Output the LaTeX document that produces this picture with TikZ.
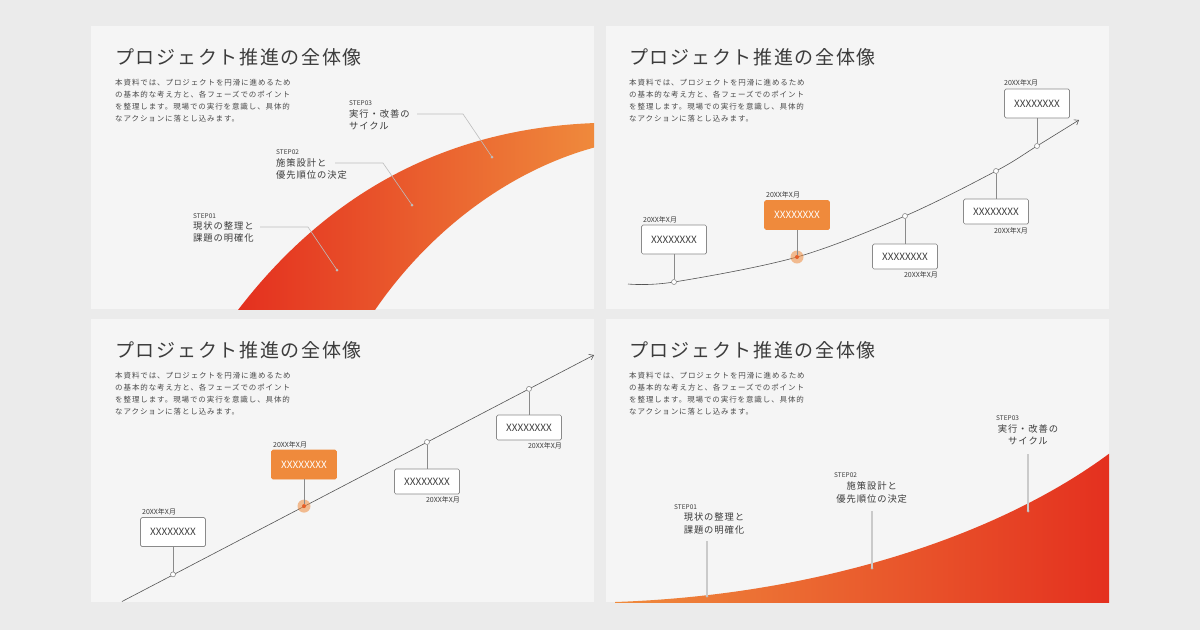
\documentclass[tikz,border=0pt]{standalone}
\usepackage{fontspec}
\setmainfont{Noto Sans CJK JP}
\newfontfamily\titlefont[LetterSpace=9]{Noto Sans CJK JP}
\newfontfamily\bodyfont[LetterSpace=12]{Noto Sans CJK JP}
\newfontfamily\labelfont[LetterSpace=10]{Noto Sans CJK JP}
\usetikzlibrary{arrows.meta}
\definecolor{bgc}{HTML}{EBEBEB}
\definecolor{panelc}{HTML}{F5F5F5}
\definecolor{txt}{HTML}{3C3C3C}
\definecolor{bodyc}{HTML}{4A4A4A}
\definecolor{orng}{HTML}{EF8A3C}
\definecolor{redc}{HTML}{E4301F}
\definecolor{dotc}{HTML}{E5602A}
\definecolor{linec}{HTML}{555555}
\definecolor{boxline}{HTML}{8A8A8A}
\definecolor{annot}{HTML}{BDBDBD}
\newcommand{\mkhead}[3]{%
  \begin{scope}[shift={(#2,#3)}]
    \node[titletxt] (#1title) at (115,64) {プロジェクト推進の全体像};
    \node[bodytxt] (#1la) at (115,85) {本資料では、プロジェクトを円滑に進めるため};
    \node[bodytxt] (#1lb) at (115,97) {の基本的な考え方と、各フェーズでのポイント};
    \node[bodytxt] (#1lc) at (115,109) {を整理します。現場での実行を意識し、具体的};
    \node[bodytxt] (#1ld) at (115,121) {なアクションに落とし込みます。};
  \end{scope}}
\begin{document}
\begin{tikzpicture}[x=1pt,y=-1pt,
  titletxt/.style={anchor=base west, inner sep=0, text=txt, font=\titlefont\fontsize{19}{19}\selectfont},
  bodytxt/.style={anchor=base west, inner sep=0, text=bodyc, font=\bodyfont\fontsize{7.5}{9}\selectfont},
  steptxt/.style={anchor=base west, inner sep=0, text=txt, font=\fontsize{6.5}{7}\selectfont},
  labtxt/.style={anchor=base west, inner sep=0, text=txt, font=\labelfont\fontsize{9.3}{10}\selectfont},
  labc/.style={labtxt, anchor=base},
  xbox/.style={draw=boxline, fill=white, rounded corners=1.5pt, line width=0.7pt, minimum width=65pt, minimum height=29pt, inner sep=0, text=txt, font=\fontsize{10}{10}\selectfont},
  xboxlow/.style={xbox, minimum height=25pt},
  obox/.style={xbox, draw=orng, fill=orng, text=white},
  datetxt/.style={inner sep=0, text=txt, font=\fontsize{7}{7}\selectfont},
  milestone/.style={circle, draw=boxline, fill=white, line width=0.6pt, minimum size=5pt, inner sep=0},
  halo/.style={circle, fill=orng, opacity=0.55, minimum size=13pt, inner sep=0},
  hotdot/.style={circle, fill=dotc, minimum size=4pt, inner sep=0},
  stem/.style={draw=boxline, line width=0.7pt},
  trend/.style={draw=linec, line width=0.6pt},
  annline/.style={draw=annot, line width=0.6pt},
  annline2/.style={draw=annot!80, line width=1.2pt},
  anndot/.style={circle, fill=annot, minimum size=3pt, inner sep=0},
  tip/.style={-{Straight Barb[length=4pt,width=6pt]}}
]
\useasboundingbox (0,0) rectangle (1200,630);
\fill[bgc] (0,0) rectangle (1200,630);
\fill[panelc] (91,26) rectangle (594,309);
\fill[panelc] (606,26) rectangle (1109,309);
\fill[panelc] (91,319) rectangle (594,602);
\fill[panelc] (606,319) rectangle (1109,602);

% ---------- Panel 1 ----------
\begin{scope}
  \clip (91,26) rectangle (594,309);
  \shade[left color=redc, right color=orng]
    (238,310) .. controls (330,190) and (450,128) .. (596,123)
    -- (596,147) .. controls (510,170) and (430,230) .. (375,310) -- cycle;
\end{scope}
\mkhead{pa}{0}{0}
\node[steptxt] (s1a) at (193,218.5) {STEP01};
\node[labtxt] (s1b) at (193,229.8) {現状の整理と};
\node[labtxt] (s1c) at (193,241.8) {課題の明確化};
\node[steptxt] (s2a) at (276,154) {STEP02};
\node[labtxt] (s2b) at (276,166.2) {施策設計と};
\node[labtxt] (s2c) at (276,178.8) {優先順位の決定};
\node[steptxt] (s3a) at (349,105.5) {STEP03};
\node[labtxt] (s3b) at (349,117.2) {実行・改善の};
\node[labtxt] (s3c) at (349,129.2) {サイクル};
\coordinate (k1s) at (260,227); \coordinate (k1k) at (308,227);
\node[anndot] (k1d) at (337,270) {};
\coordinate (k2s) at (335,163); \coordinate (k2k) at (383,163);
\node[anndot] (k2d) at (412,205) {};
\coordinate (k3s) at (417,114); \coordinate (k3k) at (463,114);
\node[anndot] (k3d) at (492,157) {};
\draw[annline] (k1s) -- (k1k) -- (k1d.center);
\draw[annline] (k2s) -- (k2k) -- (k2d.center);
\draw[annline] (k3s) -- (k3k) -- (k3d.center);

% ---------- Panel 2 ----------
\mkhead{pb}{514}{0}
\coordinate (q0) at (628,284);
\coordinate (q1) at (674,282);
\coordinate (q2) at (797,257);
\coordinate (q3) at (905,216);
\coordinate (q4) at (996,171);
\coordinate (q5) at (1037,146);
\coordinate (q6) at (1079,120);
\draw[trend, tip] plot[smooth, tension=0.55] coordinates {(q0) (q1) (q2) (q3) (q4) (q5) (q6)};
\node[xbox] (qb1) at (674,239.5) {XXXXXXXX};
\node[obox] (qb2) at (797,215) {XXXXXXXX};
\node[xboxlow] (qb3) at (905,256.5) {XXXXXXXX};
\node[xboxlow] (qb4) at (996,211.5) {XXXXXXXX};
\node[xbox] (qb5) at (1037,103.5) {XXXXXXXX};
\node[milestone] (qm1) at (q1) {};
\node[halo] (qh2) at (q2) {};
\node[hotdot] (qm2) at (q2) {};
\node[milestone] (qm3) at (q3) {};
\node[milestone] (qm4) at (q4) {};
\node[milestone] (qm5) at (q5) {};
\draw[stem] (qb1) -- (qm1);
\draw[stem] (qb2) -- (qm2);
\draw[stem] (qm3) -- (qb3);
\draw[stem] (qm4) -- (qb4);
\draw[stem] (qb5) -- (qm5);
\node[datetxt, anchor=base west] (qd1) at (643,222.5) {20XX年X月};
\node[datetxt, anchor=base west] (qd2) at (766,197.5) {20XX年X月};
\node[datetxt, anchor=base east] (qd3) at (938,277.5) {20XX年X月};
\node[datetxt, anchor=base east] (qd4) at (1028,233) {20XX年X月};
\node[datetxt, anchor=base west] (qd5) at (1004,85.8) {20XX年X月};

% ---------- Panel 3 ----------
\mkhead{pc}{0}{293}
\coordinate (r0) at (122,601.5);
\coordinate (r1) at (173,574.4);
\coordinate (r2) at (304,506.1);
\coordinate (r3) at (427,442);
\coordinate (r4) at (529,388.9);
\coordinate (r5) at (594,355);
\draw[trend, tip] (r0) -- (r5);
\node[xbox] (rb1) at (173,532) {XXXXXXXX};
\node[obox] (rb2) at (304,464.5) {XXXXXXXX};
\node[xboxlow] (rb3) at (427,481.5) {XXXXXXXX};
\node[xboxlow] (rb4) at (529,427.5) {XXXXXXXX};
\node[milestone] (rm1) at (r1) {};
\node[halo] (rh2) at (r2) {};
\node[hotdot] (rm2) at (r2) {};
\node[milestone] (rm3) at (r3) {};
\node[milestone] (rm4) at (r4) {};
\draw[stem] (rb1) -- (rm1);
\draw[stem] (rb2) -- (rm2);
\draw[stem] (rm3) -- (rb3);
\draw[stem] (rm4) -- (rb4);
\node[datetxt, anchor=base west] (rd1) at (142,514) {20XX年X月};
\node[datetxt, anchor=base west] (rd2) at (273,447) {20XX年X月};
\node[datetxt, anchor=base east] (rd3) at (460,502) {20XX年X月};
\node[datetxt, anchor=base east] (rd4) at (562,448) {20XX年X月};

% ---------- Panel 4 ----------
\begin{scope}
  \clip (606,319) rectangle (1109,602);
  \shade[left color=orng, right color=redc]
    (615,602) .. controls (820,595) and (1000,535) .. (1110,453) -- (1110,603) -- (615,603) -- cycle;
\end{scope}
\mkhead{pd}{514}{293}
\node[steptxt] (t1a) at (674,509.5) {STEP01};
\node[labc] (t1b) at (714,520.8) {現状の整理と};
\node[labc] (t1c) at (714,533.5) {課題の明確化};
\node[steptxt] (t2a) at (834,477) {STEP02};
\node[labc] (t2b) at (871.7,489.8) {施策設計と};
\node[labc] (t2c) at (871.7,502.2) {優先順位の決定};
\node[steptxt] (t3a) at (996,420.5) {STEP03};
\node[labc] (t3b) at (1028,432.2) {実行・改善の};
\node[labc] (t3c) at (1028,444.8) {サイクル};
\coordinate (u1s) at (707,541); \node[anndot] (u1d) at (707,596) {};
\coordinate (u2s) at (872,511); \node[anndot] (u2d) at (872,568) {};
\coordinate (u3s) at (1028,454); \node[anndot] (u3d) at (1028,511) {};
\draw[annline2] (u1s) -- (u1d.center);
\draw[annline2] (u2s) -- (u2d.center);
\draw[annline2] (u3s) -- (u3d.center);
\end{tikzpicture}
\end{document}
